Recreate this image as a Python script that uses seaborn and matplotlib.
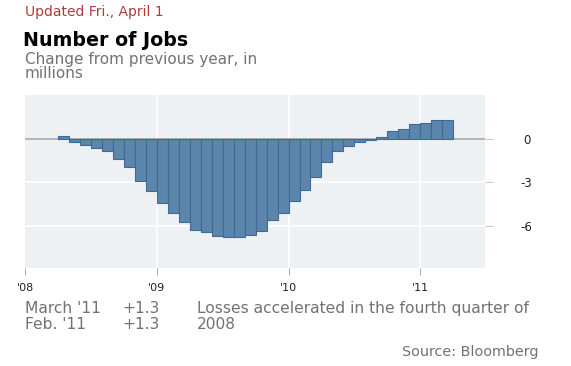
import numpy as np
import pandas as pd
import matplotlib
matplotlib.use("Agg")
import matplotlib.pyplot as plt
import seaborn as sns

# -------------------------------
# Data: year-over-year change in jobs (millions), Apr 2008 - Mar 2011
# -------------------------------
start_year = 2008
start_month = 4
values = [0.2, -0.2, -0.4, -0.65, -0.85, -1.4, -1.95, -2.9, -3.6,
          -4.4, -5.1, -5.75, -6.3, -6.45, -6.7, -6.8, -6.8, -6.6, -6.35, -5.6, -5.1,
          -4.3, -3.55, -2.65, -1.6, -0.85, -0.5, -0.25, -0.1, 0.1, 0.55, 0.7, 1.0,
          1.05, 1.3, 1.3]
year_ticks = [2008, 2009, 2010, 2011]
year_labels = ["'08", "'09", "'10", "'11"]
y_ticks = [0, -3, -6]
y_labels = ["0", "-3", "-6"]

dates = pd.date_range(f"{start_year}-{start_month:02d}-01", periods=len(values), freq="MS")
df = pd.DataFrame({"date": dates, "value": values})
# month centre as decimal year
df["x"] = df["date"].dt.year + (df["date"].dt.month - 0.5) / 12

# -------------------------------
# Plot
# -------------------------------
sns.set_style("white")
plt.rcParams["font.family"] = ["DejaVu Sans"]

fig = plt.figure(figsize=(5.71, 3.66), dpi=100)
ax = fig.add_axes([0.044, 0.268, 0.805, 0.472])
ax.set_facecolor("#edf1f4")

sns.barplot(data=df, x="x", y="value", native_scale=True, width=1.0,
            color="#5b85aa", saturation=1, edgecolor="#3e6b95", linewidth=0.8,
            ax=ax, zorder=3)

for yr in year_ticks[1:]:
    ax.axvline(yr, color="white", lw=1.2, zorder=1)
for yv in y_ticks[1:]:
    ax.axhline(yv, color="white", lw=1.2, zorder=1)
ax.axhline(0, color="#a9a9a9", lw=1.2, zorder=2)

ax.set_xlim(2008, 2011.49)
ax.set_ylim(-8.9, 3.0)

for s in ax.spines.values():
    s.set_visible(False)

ax.set_xticks(year_ticks)
ax.set_xticklabels(year_labels, fontsize=8, color="#222222")
ax.yaxis.tick_right()
ax.set_yticks(y_ticks)
ax.set_yticklabels(y_labels, fontsize=8.5, color="#222222", ha="center")
ax.tick_params(axis="x", direction="out", length=5, width=0.6, color="#999999", pad=6, bottom=True)
ax.tick_params(axis="y", direction="out", length=6, width=0.6, color="#bbbbbb", pad=24, right=True, left=False)
ax.set_xlabel("")
ax.set_ylabel("")

# -------------------------------
# Text
# -------------------------------
grey = "#727272"
fig.text(0.044, 0.967, "Updated Fri., April 1", color="#ae3b3b", fontsize=10, va="center")
fig.text(0.040, 0.89, "Number of Jobs", color="black", fontsize=13.7, fontweight="bold", va="center")
fig.text(0.044, 0.838, "Change from previous year, in", color=grey, fontsize=11, va="center")
fig.text(0.044, 0.799, "millions", color=grey, fontsize=11, va="center")

fig.text(0.044, 0.158, "March '11", color=grey, fontsize=11.2, va="center")
fig.text(0.044, 0.113, "Feb. '11", color=grey, fontsize=11.2, va="center")
fig.text(0.215, 0.158, "+1.3", color=grey, fontsize=11.2, va="center")
fig.text(0.215, 0.113, "+1.3", color=grey, fontsize=11.2, va="center")
fig.text(0.345, 0.158, "Losses accelerated in the fourth quarter of", color=grey, fontsize=11.2, va="center")
fig.text(0.345, 0.113, "2008", color=grey, fontsize=11.2, va="center")
fig.text(0.943, 0.038, "Source: Bloomberg", color=grey, fontsize=10.4, ha="right", va="center")

fig.savefig("out.png", dpi=100)
